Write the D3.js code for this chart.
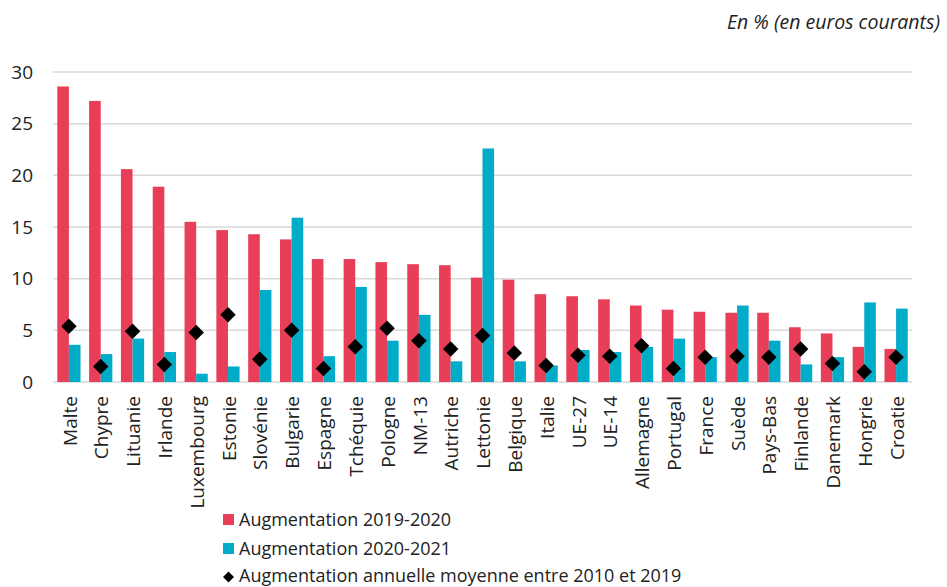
<!DOCTYPE html>
<html>
<head>
<meta charset="utf-8">
<script src="https://cdn.jsdelivr.net/npm/d3@7"></script>
<style>
  body { margin: 0; background: #fff; }
  text { font-family: "Open Sans", Lato, sans-serif; fill: #222; }
</style>
</head>
<body>
<div id="chart"></div>
<script>
// Données
let pays = ["Malte", "Chypre", "Lituanie", "Irlande", "Luxembourg", "Estonie", "Slovénie",
            "Bulgarie", "Espagne", "Tchéquie", "Pologne", "NM-13", "Autriche", "Lettonie",
            "Belgique", "Italie", "UE-27", "UE-14", "Allemagne", "Portugal", "France", "Suède",
            "Pays-Bas", "Finlande", "Danemark", "Hongrie", "Croatie"];

let aug2019_2020 = [28.6, 27.2, 20.6, 18.9, 15.5, 14.7, 14.3, 13.8, 11.9, 11.9, 11.6, 11.4, 11.3,
                    10.1, 9.9, 8.5, 8.3, 8.0, 7.4, 7.0, 6.8, 6.7, 6.7, 5.3, 4.7, 3.4, 3.2];

let aug2020_2021 = [3.6, 2.7, 4.2, 2.9, 0.8, 1.5, 8.9, 15.9, 2.5, 9.2, 4.0, 6.5, 2.0, 22.6,
                    2.0, 1.6, 3.1, 2.9, 3.4, 4.2, 2.4, 7.4, 4.0, 1.7, 2.4, 7.7, 7.1];

let moyenne2010_2019 = [5.4, 1.5, 4.9, 1.7, 4.8, 6.5, 2.2, 5.0, 1.3, 3.4, 5.2, 4.0, 3.2, 4.5,
                        2.8, 1.6, 2.6, 2.5, 3.5, 1.3, 2.4, 2.5, 2.4, 3.2, 1.8, 1.0, 2.4];

let yTicks = [0, 5, 10, 15, 20, 25, 30];

let series = ["Augmentation 2019-2020", "Augmentation 2020-2021"];
let couleurs = ["#E83E57", "#00ACC8"];

let data = pays.map((p, i) => ({
  pays: p,
  valeurs: [aug2019_2020[i], aug2020_2021[i]],
  moyenne: moyenne2010_2019[i]
}));

// Dimensions
let width = 947, height = 587;
let margins = { left: 53, right: 35, top: 72, bottom: 205 };

let svg = d3.select("#chart")
            .append("svg")
            .attr("width", width)
            .attr("height", height);

let xScale = d3.scaleBand()
               .domain(pays)
               .range([margins.left, width - margins.right])
               .paddingInner(0.27)
               .paddingOuter(0.135);

let xSub = d3.scaleBand()
             .domain([0, 1])
             .range([0, xScale.bandwidth()]);

let yScale = d3.scaleLinear()
               .domain([0, 30])
               .range([height - margins.bottom, margins.top]);

// Grille
svg.append("g")
   .selectAll("line")
   .data(yTicks)
   .enter()
   .append("line")
   .attr("x1", margins.left)
   .attr("x2", width - margins.right)
   .attr("y1", d => yScale(d))
   .attr("y2", d => yScale(d))
   .style("stroke", "#d9d9d9")
   .style("stroke-width", 1.5);

// Axe Y (texte seulement)
svg.append("g")
   .selectAll("text")
   .data(yTicks)
   .enter()
   .append("text")
   .attr("x", 33)
   .attr("y", d => yScale(d))
   .attr("dy", "0.35em")
   .attr("text-anchor", "end")
   .style("font-size", "19px")
   .text(d => d);

// Barres
let groups = svg.append("g")
                .selectAll("g")
                .data(data)
                .enter()
                .append("g")
                .attr("transform", d => `translate(${xScale(d.pays)},0)`);

groups.selectAll("rect")
      .data(d => d.valeurs)
      .enter()
      .append("rect")
      .attr("x", (d, i) => xSub(i))
      .attr("width", xSub.bandwidth())
      .attr("y", d => yScale(d))
      .attr("height", d => yScale(0) - yScale(d))
      .style("fill", (d, i) => couleurs[i]);

// Losanges (moyenne annuelle)
let losange = d3.symbol().type(d3.symbolSquare).size(120);

svg.append("g")
   .selectAll("path")
   .data(data)
   .enter()
   .append("path")
   .attr("d", losange)
   .attr("transform", d => `translate(${xScale(d.pays) + xScale.bandwidth() / 2},${yScale(d.moyenne)}) rotate(45)`)
   .style("fill", "#000");

// Étiquettes de l'axe X
svg.append("g")
   .selectAll("text")
   .data(pays)
   .enter()
   .append("text")
   .attr("transform", d => `translate(${xScale(d) + xScale.bandwidth() / 2 + 1},${yScale(0) + 14}) rotate(-90)`)
   .attr("dy", "0.35em")
   .attr("text-anchor", "end")
   .style("font-size", "19px")
   .text(d => d);

// Unité
svg.append("text")
   .attr("x", 940)
   .attr("y", 29)
   .attr("text-anchor", "end")
   .style("font-size", "19.5px")
   .style("font-style", "italic")
   .text("En % (en euros courants)");

// Légende
let legendX = 223;
let legend = svg.append("g");

series.forEach((s, i) => {
  legend.append("rect")
        .attr("x", legendX)
        .attr("y", 514 + i * 29)
        .attr("width", 11)
        .attr("height", 11)
        .style("fill", couleurs[i]);
  legend.append("text")
        .attr("x", legendX + 16)
        .attr("y", 520 + i * 29)
        .attr("dy", "0.35em")
        .style("font-size", "18px")
        .text(s);
});

legend.append("path")
      .attr("d", d3.symbol().type(d3.symbolSquare).size(60))
      .attr("transform", `translate(${legendX + 5.5},577) rotate(45)`)
      .style("fill", "#000");

legend.append("text")
      .attr("x", legendX + 16)
      .attr("y", 576)
      .attr("dy", "0.35em")
      .style("font-size", "18px")
      .text("Augmentation annuelle moyenne entre 2010 et 2019");
</script>
</body>
</html>
